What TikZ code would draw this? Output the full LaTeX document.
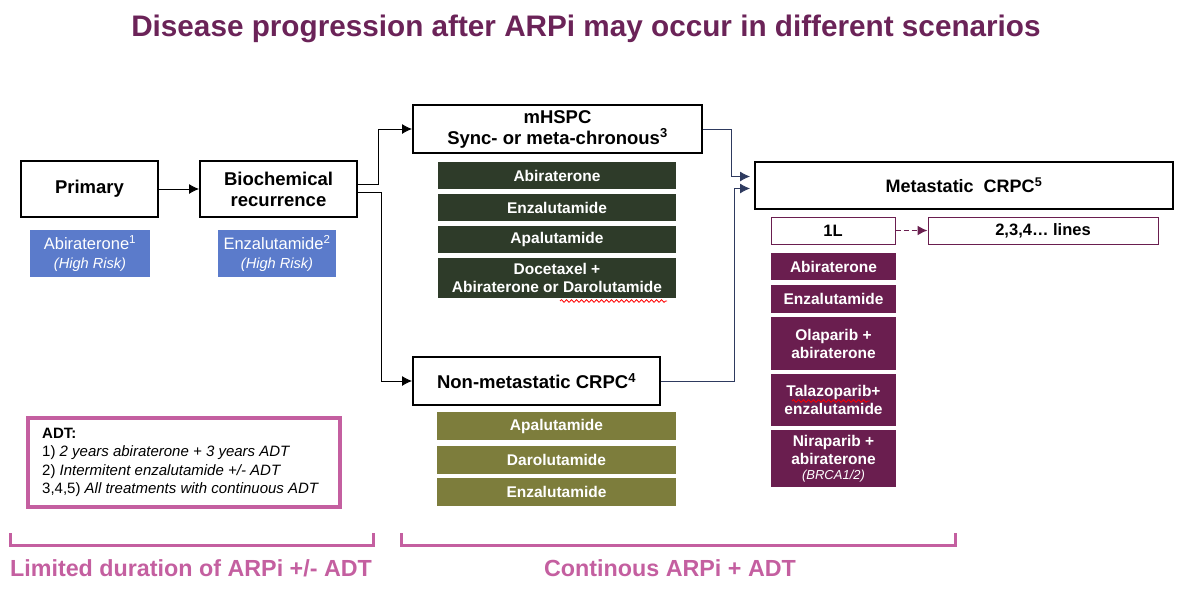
\documentclass[tikz,border=0pt]{standalone}
\usepackage{fontspec}
\setmainfont{Liberation Sans}
\usetikzlibrary{positioning,arrows.meta,decorations.pathmorphing}

\definecolor{titlepurple}{HTML}{6B2358}
\definecolor{riskblue}{HTML}{5B7BCB}
\definecolor{hspcgreen}{HTML}{2E3B29}
\definecolor{nmolive}{HTML}{7D7D3C}
\definecolor{crpcpurple}{HTML}{6A1E4F}
\definecolor{adtpink}{HTML}{C45FA0}
\definecolor{linknavy}{HTML}{2E3A5F}

\newcommand{\fsz}[2]{\fontsize{#1}{#2}\selectfont}

\begin{document}
\begin{tikzpicture}[x=1pt,y=-1pt,>={Latex[length=10pt,width=10pt]},
    stage/.style={draw, line width=2pt, align=center, inner sep=0pt,
      font=\bfseries\fsz{18.5}{21}},
    riskbox/.style={fill=riskblue, text=white, align=center, inner sep=0pt,
      minimum height=47pt, font=\fsz{16.5}{19}},
    drug/.style={text=white, align=center, inner sep=0pt,
      font=\bfseries\fsz{15.5}{18}},
    hspc/.style={drug, fill=hspcgreen, minimum width=238pt},
    nmdrug/.style={drug, fill=nmolive, minimum width=239pt, minimum height=28pt},
    mdrug/.style={drug, fill=crpcpurple, minimum width=125pt},
    linebox/.style={draw=crpcpurple, line width=1pt, inner sep=0pt,
      minimum height=27pt, font=\bfseries\fsz{16.5}{19}},
    bracket/.style={draw=adtpink, line width=3pt},
    bracketlabel/.style={text=adtpink, font=\bfseries\fsz{23.3}{26}},
    link/.style={->, line width=0.8pt},
    spell/.style={draw=red, line width=0.8pt, decorate,
      decoration={snake, amplitude=1.3pt, segment length=5pt}}]
  \useasboundingbox (0,0) rectangle (1200,592);

  % title
  \node (title) [text=titlepurple, font=\bfseries\fsz{29.7}{32}] at (586,29)
    {Disease progression after ARPi may occur in different scenarios};

  % early disease
  \node (prim) [stage, minimum width=137pt, minimum height=56pt] at (89.5,189) {Primary};
  \node (bcr) [stage, minimum width=157pt, minimum height=56pt] at (278.5,189) {Biochemical\\recurrence};
  \node (abi1) [riskbox, minimum width=120pt] at (90,253.5)
    {Abiraterone\textsuperscript{1}\\\textit{\fsz{14.6}{17}(High Risk)}};
  \node (enz2) [riskbox, minimum width=118pt] at (277,253.5)
    {Enzalutamide\textsuperscript{2}\\\textit{\fsz{14.6}{17}(High Risk)}};

  % mHSPC
  \node (mhspc) [stage, minimum width=289pt, minimum height=48pt] at (557.5,129)
    {mHSPC\\Sync- or meta-chronous\textsuperscript{3}};
  \node (habi) [hspc, minimum height=27pt] at (557,175.5) {Abiraterone};
  \node (henz) [hspc, minimum height=27pt] at (557,207.5) {Enzalutamide};
  \node (hapa) [hspc, minimum height=27pt] at (557,239.5) {Apalutamide};
  \node (hdoc) [hspc, minimum height=40pt] at (557,278) {Docetaxel +\\Abiraterone or Darolutamide};

  % nmCRPC
  \node (nmcrpc) [stage, minimum width=247pt, minimum height=48pt] at (536.5,381)
    {Non-metastatic CRPC\textsuperscript{4}};
  \node (napa) [nmdrug] at (556.5,426) {Apalutamide};
  \node (ndar) [nmdrug] at (556.5,459.5) {Darolutamide};
  \node (nenz) [nmdrug] at (556.5,492) {Enzalutamide};

  % mCRPC
  \node (mcrpc) [stage, minimum width=418pt, minimum height=47pt, font=\bfseries\fsz{18}{21}] at (964,185.5)
    {Metastatic\ \ CRPC\textsuperscript{5}};
  \node (first) [linebox, minimum width=124pt] at (833,230.5) {1L};
  \node (later) [linebox, minimum width=230pt] at (1043,230.5) {2,3,4\ldots\ lines};
  \node (mabi) [mdrug, minimum height=27pt] at (833.5,266.5) {Abiraterone};
  \node (menz) [mdrug, minimum height=28pt] at (833.5,299) {Enzalutamide};
  \node (mola) [mdrug, minimum height=53pt] at (833.5,343.5) {Olaparib +\\abiraterone};
  \node (mtal) [mdrug, minimum height=52pt] at (833.5,400) {Talazoparib+\\enzalutamide};
  \node (mnir) [mdrug, minimum height=57pt] at (833.5,458.5)
    {Niraparib +\\abiraterone\\[-3pt]\textit{\mdseries\fsz{13}{15}(BRCA1/2)}};

  % spelling marks
  \draw[spell] (560,301) -- (667,301);
  \draw[spell] (792,401) -- (870,401);

  % connectors
  \draw[link] (prim) -- (bcr);
  \draw[link] ([yshift=5pt]bcr.east) -- ++(20,0) |- (mhspc.west);
  \draw[link] ([yshift=-3pt]bcr.east) -- ++(23,0) |- (nmcrpc.west);
  \draw[link, linknavy, shorten >=4pt] (mhspc.east) -- ++(28,0) |- ([yshift=9pt]mcrpc.west);
  \draw[link, linknavy, shorten >=4pt] (nmcrpc.east) -- ++(73,0) |- ([yshift=-3pt]mcrpc.west);
  \draw[link, crpcpurple, line width=1.6pt, dash pattern=on 5pt off 3pt] (first) -- (later);

  % ADT note
  \node (adt) [draw=adtpink, line width=3.5pt, minimum width=312pt, minimum height=89pt] at (184,462.5) {};
  \node (adttext) [anchor=north west, align=left, inner sep=0pt, font=\fsz{15}{18.3}] at (42,428)
    {\textbf{ADT:}\\1) \textit{2 years abiraterone + 3 years ADT}\\2) \textit{Intermitent enzalutamide +/- ADT}\\3,4,5) \textit{All treatments with continuous ADT}};

  % brackets
  \draw[bracket] (10,533) -- (10,545) -- (373,545) -- (373,533);
  \node (limlabel) [bracketlabel] at (191,568) {Limited duration of ARPi +/- ADT};
  \draw[bracket] (401,533) -- (401,545) -- (955,545) -- (955,533);
  \node (contlabel) [bracketlabel] at (670,568) {Continous ARPi + ADT};
\end{tikzpicture}
\end{document}
